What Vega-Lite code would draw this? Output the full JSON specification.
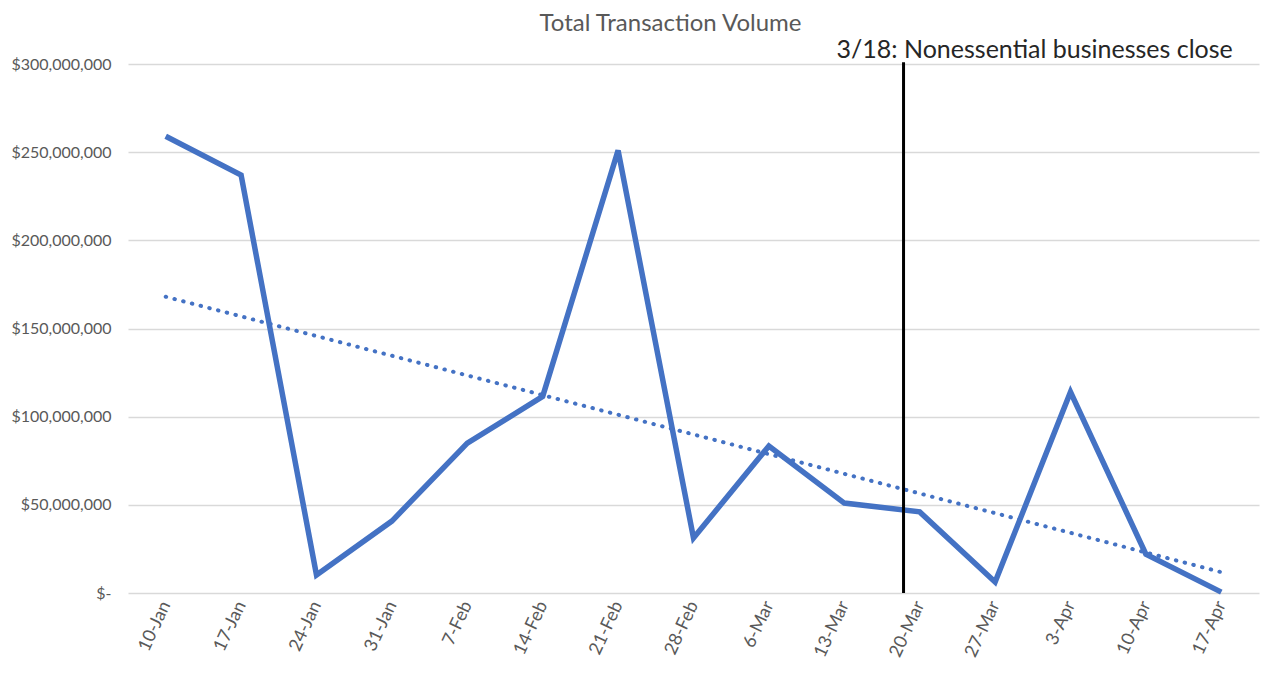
{
  "$schema": "https://vega.github.io/schema/vega-lite/v6.json",
  "autosize": "none",
  "width": 1131,
  "height": 529,
  "padding": {"left": 128, "top": 64, "right": 13, "bottom": 95},
  "background": "white",
  "config": {
    "font": "Lato",
    "view": {"stroke": null}
  },
  "title": {
    "text": "Total Transaction Volume",
    "font": "Lato",
    "fontSize": 24,
    "fontWeight": "normal",
    "color": "#595959",
    "anchor": "middle",
    "frame": "group",
    "dx": -23,
    "offset": 2
  },
  "datasets": {
    "volume": [
      {"date": "2020-01-10", "value": 259000000},
      {"date": "2020-01-17", "value": 237000000},
      {"date": "2020-01-24", "value": 10200000},
      {"date": "2020-01-31", "value": 40800000},
      {"date": "2020-02-07", "value": 85000000},
      {"date": "2020-02-14", "value": 111500000},
      {"date": "2020-02-21", "value": 251000000},
      {"date": "2020-02-28", "value": 31200000},
      {"date": "2020-03-06", "value": 83400000},
      {"date": "2020-03-13", "value": 51000000},
      {"date": "2020-03-20", "value": 46000000},
      {"date": "2020-03-27", "value": 6200000},
      {"date": "2020-04-03", "value": 114000000},
      {"date": "2020-04-10", "value": 22000000},
      {"date": "2020-04-17", "value": 500000}
    ],
    "event": [
      {"date": "2020-03-18T12:00:00", "low": 0, "high": 301000000, "label": "3/18: Nonessential businesses close"}
    ]
  },
  "layer": [
    {
      "data": {"name": "volume"},
      "mark": {"type": "line", "color": "#4472C4", "strokeWidth": 5.5, "strokeJoin": "miter", "strokeCap": "butt"},
      "encoding": {
        "x": {
          "field": "date",
          "type": "temporal",
          "scale": {"domain": [{"year": 2020, "month": 1, "date": 6, "hours": 12}, {"year": 2020, "month": 4, "date": 20, "hours": 12}]},
          "axis": {
            "title": null,
            "values": [
              {"year": 2020, "month": 1, "date": 10}, {"year": 2020, "month": 1, "date": 17}, {"year": 2020, "month": 1, "date": 24}, {"year": 2020, "month": 1, "date": 31},
              {"year": 2020, "month": 2, "date": 7}, {"year": 2020, "month": 2, "date": 14}, {"year": 2020, "month": 2, "date": 21}, {"year": 2020, "month": 2, "date": 28},
              {"year": 2020, "month": 3, "date": 6}, {"year": 2020, "month": 3, "date": 13}, {"year": 2020, "month": 3, "date": 20}, {"year": 2020, "month": 3, "date": 27},
              {"year": 2020, "month": 4, "date": 3}, {"year": 2020, "month": 4, "date": 10}, {"year": 2020, "month": 4, "date": 17}
            ],
            "format": "%-d-%b",
            "labelAngle": -65,
            "labelPadding": 9,
            "labelFont": "Lato",
            "labelFontSize": 18,
            "labelColor": "#595959",
            "ticks": false,
            "domain": false,
            "grid": false,
            "labelOverlap": false
          }
        },
        "y": {
          "field": "value",
          "type": "quantitative",
          "scale": {"domain": [0, 300000000]},
          "axis": {
            "title": null,
            "values": [0, 50000000, 100000000, 150000000, 200000000, 250000000, 300000000],
            "labelExpr": "datum.value == 0 ? '$-\u2002\u2009' : '$' + format(datum.value, ',')",
            "labelFont": "Lato",
            "labelFontSize": 16,
            "labelColor": "#595959",
            "ticks": false,
            "domain": false,
            "grid": true,
            "gridColor": "#d9d9d9",
            "gridWidth": 1.5,
            "labelPadding": 17
          }
        }
      }
    },
    {
      "data": {"name": "volume"},
      "transform": [{"regression": "value", "on": "date"}],
      "mark": {"type": "line", "color": "#4472C4", "strokeWidth": 4, "strokeDash": [0.5, 8.5], "strokeCap": "round"},
      "encoding": {
        "x": {"field": "date", "type": "temporal"},
        "y": {"field": "value", "type": "quantitative"}
      }
    },
    {
      "data": {"name": "event"},
      "mark": {"type": "rule", "color": "black", "strokeWidth": 3},
      "encoding": {
        "x": {"field": "date", "type": "temporal"},
        "y": {"field": "low", "type": "quantitative"},
        "y2": {"field": "high"}
      }
    },
    {
      "data": {"name": "event"},
      "mark": {"type": "text", "align": "left", "baseline": "alphabetic", "fontSize": 25, "font": "Lato", "color": "#262626", "dx": -67, "dy": -4},
      "encoding": {
        "x": {"field": "date", "type": "temporal"},
        "y": {"field": "high", "type": "quantitative"},
        "text": {"field": "label"}
      }
    }
  ]
}
